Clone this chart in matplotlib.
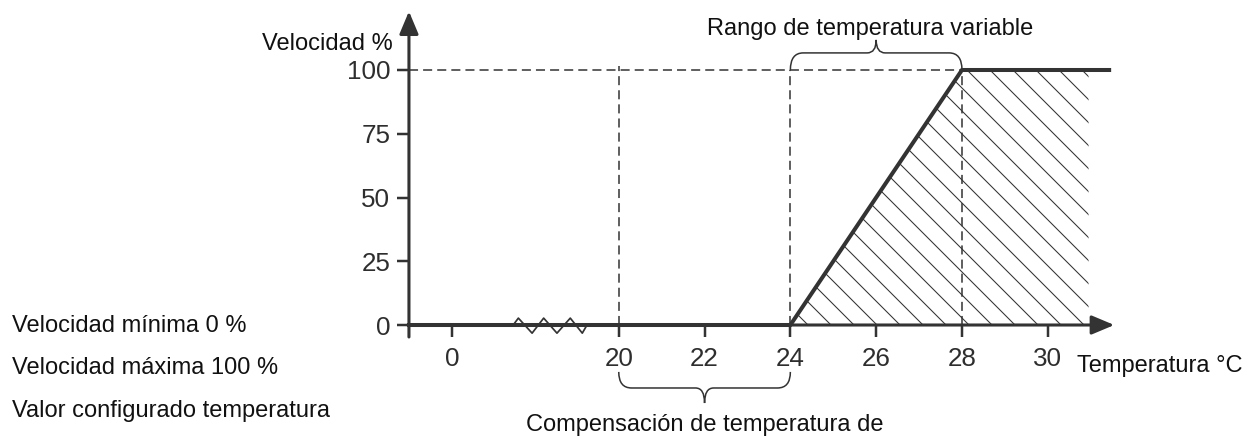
import matplotlib
matplotlib.use('Agg')
import matplotlib.pyplot as plt
from matplotlib.path import Path
from matplotlib.patches import PathPatch
import numpy as np

font = {'size': 12.3, 'family': 'Liberation Sans'}
plt.rc('font', **font)
plt.rc('hatch', linewidth=0.55, color='#333333')

DPI = 138
INK = '#333333'

# fan speed (%) against temperature (C)
temp = [15.11, 24, 28, 31.43]
speed = [0, 0, 100, 100]

# hatched area under the ramp
hatch_temp = [24, 28, 30.95]
hatch_speed = [0, 100, 100]

# ticks, 0 sits left of the axis break
xtick_temp = [0, 20, 22, 24, 26, 28, 30]
xtick_labels = ['0', '20', '22', '24', '26', '28', '30']
ytick_vals = [0, 25, 50, 75, 100]
ZERO_POS = 16.11   # where temperature 0 is drawn
T_BREAK = 20

# dashed guides
guide_temp = [20, 24, 28]
guide_top = [101.6, 100, 100]
max_speed = 100

# axis break zig-zag
break_x = [17.54, 17.66, 17.98, 18.25, 18.56, 18.87, 19.15, 19.26]
break_y = [0, 2.7, -3.2, 2.7, -3.2, 2.7, -3.2, 0]

side_notes = ['Velocidad mínima 0 %', 'Velocidad máxima 100 %',
              'Valor configurado temperatura']


def xpos(t):
    # broken axis: values below the break are shifted next to it
    t = np.asarray(t, dtype=float)
    return np.where(t >= T_BREAK, t, t + ZERO_POS)


def brace(ax, x0, x1, y0, y1, y2, rx=0.3, tx=0.21):
    xm = (x0 + x1) / 2
    verts = [(x0, y0), (x0, y1), (x0 + rx, y1),
             (xm - tx, y1), (xm, y1), (xm, y2),
             (xm, y1), (xm + tx, y1),
             (x1 - rx, y1), (x1, y1), (x1, y0)]
    codes = [Path.MOVETO, Path.CURVE3, Path.CURVE3,
             Path.LINETO, Path.CURVE3, Path.CURVE3,
             Path.CURVE3, Path.CURVE3,
             Path.LINETO, Path.CURVE3, Path.CURVE3]
    ax.add_patch(PathPatch(Path(verts, codes), fc='none', ec=INK, lw=0.8))


fig = plt.figure(figsize=(1249 / DPI, 437 / DPI), dpi=DPI)
ax = fig.add_axes([0, 0, 1, 1])
ax.set_xlim(5.578, 34.69)
ax.set_ylim(-43.92, 127.45)
ax.patch.set_visible(False)

# spines only carry the ticks, the arrows are drawn below
ax.spines['left'].set_position(('data', 15.11))
ax.spines['bottom'].set_position(('data', 0))
for s in ax.spines.values():
    s.set_visible(False)

ax.set_xticks(xpos(xtick_temp))
ax.set_xticklabels(xtick_labels)
ax.set_yticks(ytick_vals)
ax.tick_params(axis='both', direction='out', length=6.3, width=1.3,
               color=INK, labelcolor='#2e2e2e', labelsize=13.6)
ax.tick_params(axis='x', pad=5.0)
ax.tick_params(axis='y', pad=3.4)

# axis arrows
arrow = dict(arrowstyle='-|>,head_length=1.0,head_width=0.42', lw=1.6,
             color=INK, mutation_scale=10, shrinkA=0, shrinkB=0)
ax.annotate('', xy=(15.11, 123.0), xytext=(15.11, -4.7), arrowprops=arrow)
ax.annotate('', xy=(31.55, 0), xytext=(15.09, 0), arrowprops=arrow)

# dashed guides
dash = (0, (5.9, 3.3))
ax.hlines(max_speed, 15.11, guide_temp[-1], color=INK, lw=0.8, ls=dash)
ax.vlines(guide_temp, 0, guide_top, color=INK, lw=0.8, ls=dash)

# hatched area and the speed curve
ax.fill_between(hatch_temp, hatch_speed, 0, facecolor='none',
                edgecolor=INK, linewidth=0, hatch='\\\\')
ax.plot(temp, speed, color=INK, lw=2.1, solid_joinstyle='miter')

# axis break
ax.plot(break_x, break_y, color=INK, lw=0.9)

# braces
brace(ax, 24, 28, 100, 106.7, 111.8)
brace(ax, 20, 24, -18.4, -24.7, -30.6)

# text labels
ax.text(14.74, 107.8, 'Velocidad %', ha='right', va='baseline', color='#111111')
ax.text(25.85, 113.7, 'Rango de temperatura variable', ha='center',
        va='baseline', color='#111111')
ax.text(22.0, -41.6, 'Compensación de temperatura de', ha='center',
        va='baseline', color='#111111')
ax.text(30.68, -18.4, 'Temperatura °C', ha='left', va='baseline',
        color='#111111')

for note, yb in zip(side_notes, [-2.75, -19.2, -36.1]):
    ax.text(5.86, yb, note, ha='left', va='baseline', color='#111111')

fig.savefig('out.png', dpi=DPI)
